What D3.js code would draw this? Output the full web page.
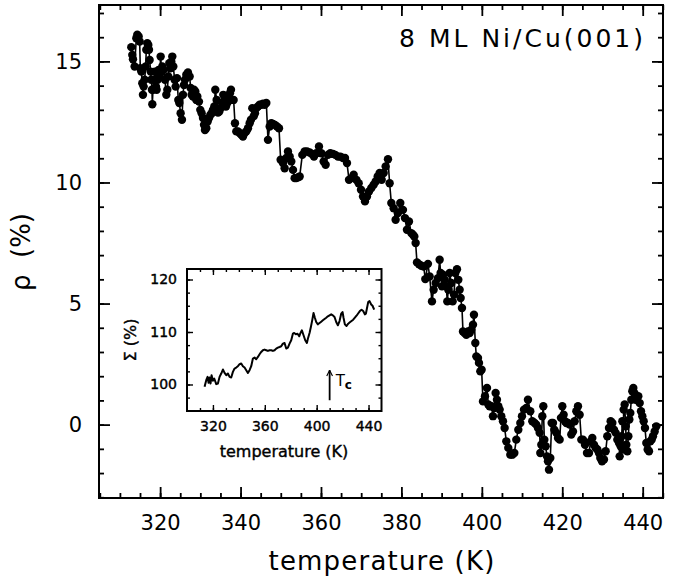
<!DOCTYPE html>
<html>
<head>
<meta charset="utf-8">
<script src="https://cdn.jsdelivr.net/npm/d3@7"></script>
<style>
  body { margin: 0; background: #fff; }
  svg { display: block; }
  text { font-family: "DejaVu Sans", sans-serif; fill: #000; }
</style>
</head>
<body>
<div id="chart"></div>
<script>
// main curve: temperature (K) vs rho (%)
var tempK = [
  312.83,313.08,313.25,313.66,314.08,314.32,314.66,314.91,315.07,315.32,315.57,315.73,315.90,316.15,316.40,316.56,
  316.81,317.06,317.23,317.39,317.64,317.81,317.97,318.06,318.22,318.47,318.72,318.97,319.13,319.38,319.63,319.88,
  320.13,320.38,320.54,320.87,321.20,321.54,321.79,322.03,322.28,322.53,322.78,323.03,323.28,323.61,323.86,324.19,
  324.52,324.77,325.10,325.43,325.68,325.93,326.18,326.51,326.92,327.34,327.59,327.84,328.17,328.42,328.75,329.00,
  329.25,329.66,329.99,330.32,330.66,330.91,331.15,331.48,331.82,332.15,332.48,332.81,333.14,333.47,333.72,334.05,
  334.39,334.72,335.05,335.38,335.71,336.04,336.37,336.71,337.04,337.37,337.62,337.95,338.28,338.61,338.94,339.36,
  339.77,340.19,340.60,341.02,341.43,341.85,342.26,342.59,342.92,343.26,343.59,343.92,344.33,344.75,345.16,345.58,
  345.99,346.41,346.82,347.24,347.65,348.06,348.56,349.06,349.56,349.97,350.55,350.96,351.38,351.79,352.21,352.62,
  353.04,353.45,353.87,354.28,354.70,355.36,355.94,356.52,357.18,357.76,358.26,358.84,359.50,360.08,360.66,361.16,
  361.74,362.32,362.99,363.57,364.23,364.81,365.47,365.97,366.47,366.97,367.55,368.13,368.79,369.37,369.95,370.45,
  370.94,371.44,371.94,372.52,373.10,373.60,374.10,374.59,375.09,375.59,376.08,376.66,377.07,377.49,378.07,378.56,
  379.14,379.72,380.39,380.88,381.38,381.88,382.46,382.88,383.21,383.54,383.87,384.40,384.95,385.53,385.94,386.60,
  387.02,387.60,388.01,388.51,389.09,389.51,389.75,390.09,390.34,390.75,391.16,391.41,391.66,392.00,392.41,392.74,
  393.07,393.40,393.82,394.15,394.48,394.73,395.06,395.31,395.72,396.14,396.55,396.97,397.38,397.80,398.04,398.38,
  398.63,399.04,399.29,399.62,399.95,400.28,400.78,401.28,401.61,401.94,402.44,402.77,403.10,403.43,403.76,404.10,
  404.43,404.84,405.26,405.67,406.09,406.58,407.08,407.58,408.08,408.57,409.07,409.57,409.98,410.48,411.06,411.47,
  412.05,412.55,413.13,413.55,413.96,414.38,414.54,414.79,415.04,415.29,415.54,415.87,416.20,416.45,416.70,417.03,
  417.36,417.69,418.02,418.52,418.94,419.35,419.68,420.01,420.34,420.68,421.01,421.42,421.84,422.25,422.67,423.08,
  423.50,423.91,424.32,424.74,425.15,425.65,426.15,426.65,427.06,427.47,427.89,428.30,428.72,429.13,429.46,429.88,
  430.37,430.79,431.20,431.62,432.03,432.45,432.86,433.28,433.69,434.11,434.27,434.52,434.77,434.94,435.10,435.27,
  435.52,435.76,435.93,436.18,436.43,436.68,436.92,437.17,437.42,437.67,437.92,438.25,438.58,438.91,439.25,439.58,
  439.91,440.24,440.57,440.90,441.24,441.57,441.90,442.23,442.56,442.98,443.39
];
var rho = [
  15.59,15.27,15.09,14.79,15.96,16.10,16.03,15.82,14.72,14.58,14.10,13.62,13.96,14.24,14.79,15.48,
  15.75,15.68,15.48,15.06,14.58,14.24,13.83,13.23,13.83,14.24,14.58,13.96,13.83,14.24,14.65,14.38,
  15.20,14.58,14.79,14.65,14.24,13.62,13.83,14.38,14.93,14.72,14.99,15.20,14.79,14.24,13.96,14.31,
  13.41,13.28,12.86,12.59,13.62,14.03,14.24,14.45,14.54,14.38,13.90,13.62,13.55,13.83,13.76,13.41,
  13.55,13.34,13.00,12.86,12.66,12.38,12.17,12.24,12.52,12.66,12.79,12.86,13.00,13.14,13.83,13.41,
  12.89,12.93,13.07,13.28,13.62,13.41,13.14,13.28,13.48,13.69,13.83,13.41,13.41,12.45,12.11,12.11,
  12.04,11.97,11.90,12.04,12.11,12.24,12.45,12.59,13.07,12.73,12.86,13.07,13.14,13.21,13.21,13.25,
  13.21,13.28,11.76,12.31,12.45,12.42,12.38,12.31,12.24,10.94,10.80,10.59,11.01,11.28,11.07,10.87,
  10.52,10.18,10.18,10.21,10.25,11.14,11.28,11.28,11.24,11.18,11.07,11.21,11.49,11.21,10.87,10.73,
  11.14,11.21,11.18,11.14,11.07,11.07,11.01,11.01,10.80,10.11,10.18,10.32,10.11,9.97,9.70,9.42,
  9.22,9.42,9.63,9.77,9.91,10.04,10.25,10.39,10.11,10.39,10.66,10.96,9.97,9.15,8.94,8.46,
  8.74,9.15,8.87,8.53,8.05,8.39,7.91,7.84,7.77,7.50,6.70,6.62,6.56,6.53,6.01,6.64,
  6.12,5.09,5.57,5.85,6.05,6.81,6.26,5.71,6.19,5.98,5.71,5.09,5.57,6.26,5.85,5.09,
  5.37,6.26,6.42,5.98,5.57,5.23,4.82,3.85,3.78,3.71,3.85,3.78,3.92,4.13,4.54,3.37,
  2.82,2.75,2.55,2.20,2.27,0.96,1.17,1.51,0.83,0.76,0.76,0.35,0.69,1.31,1.03,0.76,
  0.62,0.35,0.14,-0.14,-0.69,-0.96,-1.24,-1.24,-1.17,-0.62,-0.21,0.07,0.35,0.62,0.69,1.03,
  0.55,0.14,0.07,0.00,-0.14,-0.34,-1.17,-0.83,0.35,0.76,-0.62,-0.89,-1.31,-1.51,-1.86,-1.38,
  0.07,0.07,-0.21,-0.34,-0.55,-0.62,0.28,0.76,0.41,0.14,0.07,0.07,0.00,-0.41,-0.28,0.14,
  0.55,0.76,0.41,-0.62,-0.62,-0.83,-1.17,-1.17,-0.69,-0.55,-0.83,-0.96,-1.03,-1.17,-1.38,-1.51,
  -1.44,-1.10,-0.48,-0.14,0.14,0.07,-0.21,-0.34,-0.62,-0.76,-1.31,-0.89,-0.48,0.14,-1.03,0.62,
  0.83,-0.07,-0.83,-1.10,-0.48,0.21,0.48,1.03,1.38,1.51,1.31,1.03,1.10,1.17,0.89,0.55,
  0.35,0.14,-0.14,-0.76,-1.03,-1.10,-0.69,-0.62,-0.48,-0.28,-0.07
];

// inset curve: temperature (K) vs Sigma (%)
var insetT = [
  313.55,314.84,315.86,316.64,317.41,318.18,318.95,319.98,321.00,322.55,323.83,325.12,326.40,327.69,328.97,330.26,
  331.54,332.83,334.11,335.40,336.68,337.97,339.25,340.54,341.82,343.11,344.39,345.68,346.96,348.25,349.53,350.82,
  352.10,353.39,354.67,355.96,357.24,358.53,359.81,361.10,362.38,363.67,364.95,366.24,367.52,368.81,370.09,371.38,
  372.66,373.95,375.23,376.52,377.80,379.09,380.37,381.66,382.68,383.97,385.25,386.54,387.31,388.60,389.88,391.17,
  392.45,393.22,394.51,395.53,396.56,397.59,398.62,399.65,400.93,402.22,403.50,404.79,406.07,407.36,408.64,409.93,
  411.21,412.50,413.78,415.07,416.35,417.64,418.92,419.95,420.72,421.75,423.03,424.32,425.60,426.89,428.17,429.46,
  430.74,431.83,433.31,434.60,435.88,437.17,437.94,438.71,439.74,440.77,442.05,443.08,444.36
];
var sigma = [
  99.56,100.82,101.45,100.32,101.33,100.19,101.77,100.70,101.14,100.06,100.19,101.45,102.09,102.85,102.21,101.77,
  102.09,101.45,101.33,102.40,103.04,103.23,103.48,103.86,103.99,103.48,103.23,102.72,102.21,102.72,103.48,104.94,
  105.13,104.81,105.25,105.76,106.20,106.52,106.65,106.52,106.39,106.52,106.52,106.39,106.52,106.84,107.03,107.15,
  107.28,107.79,107.91,106.84,107.03,107.79,108.42,109.68,109.81,109.56,109.68,109.18,109.68,110.32,109.37,108.42,
  107.91,108.73,109.81,110.95,112.22,113.61,112.72,111.90,111.46,111.71,111.96,112.22,112.47,112.72,112.98,113.17,
  113.36,113.17,112.85,111.90,111.27,112.09,113.48,113.80,112.72,111.46,111.14,111.58,111.84,112.09,112.34,112.72,
  113.10,113.48,113.99,114.24,113.99,113.36,113.48,114.43,115.70,115.89,115.25,115.00,114.24
];

var xMajor = [320, 340, 360, 380, 400, 420, 440];
var yMajor = [0, 5, 10, 15];
var insetXMajor = [320, 360, 400, 440];
var insetYMajor = [100, 110, 120];
var tc = 410;

var svg = d3.select('#chart').append('svg')
  .attr('width', 682)
  .attr('height', 580);

var x = d3.scaleLinear().domain([304.8, 445.05]).range([99, 663]);
var y = d3.scaleLinear().domain([-3.03, 17.33]).range([498, 5]);

// draws inward ticks on all four sides of a box
function boxAxes(g, xs, ys, o) {
  var r = xs.range(), d = ys.range();
  var mk = function(axis, tx, ty, vals, size, labels) {
    var a = axis.tickValues(vals).tickSizeInner(-size).tickSizeOuter(0);
    if (!labels) a.tickFormat('');
    else a.tickPadding(o.pad).tickFormat(d3.format('d'));
    var ag = g.append('g').attr('transform', 'translate(' + tx + ',' + ty + ')').call(a);
    ag.select('.domain').remove();
    ag.selectAll('line').attr('stroke', '#000').attr('stroke-width', o.tw);
    ag.selectAll('text').style('font-size', o.fs + 'px').style('font-family', '"DejaVu Sans", sans-serif')
      .attr('fill', '#000').attr('stroke', o.ts ? '#000' : null).attr('stroke-width', o.ts || null);
    return ag;
  };
  mk(d3.axisBottom(xs), 0, d[0], o.xMinor, o.minor, false);
  mk(d3.axisBottom(xs), 0, d[0], o.xMajor, o.major, true);
  mk(d3.axisTop(xs), 0, d[1], o.xMinor, o.minor, false);
  mk(d3.axisTop(xs), 0, d[1], o.xMajor, o.major, false);
  mk(d3.axisLeft(ys), r[0], 0, o.yMinor, o.minor, false);
  mk(d3.axisLeft(ys), r[0], 0, o.yMajor, o.major, true);
  mk(d3.axisRight(ys), r[1], 0, o.yMinor, o.minor, false);
  mk(d3.axisRight(ys), r[1], 0, o.yMajor, o.major, false);
  g.append('rect')
    .attr('x', r[0]).attr('y', d[1])
    .attr('width', r[1] - r[0]).attr('height', d[0] - d[1])
    .attr('fill', 'none').attr('stroke', '#000').attr('stroke-width', o.fw);
}

var main = svg.append('g');
boxAxes(main, x, y, {
  xMajor: xMajor, yMajor: yMajor,
  xMinor: d3.range(305, 446, 5), yMinor: d3.range(-3, 18, 1),
  major: 11, minor: 5, pad: 17, fs: 21, tw: 1.8, fw: 2
});

var pts = tempK.map(function(t, i) { return { t: t, v: rho[i] }; });

main.append('path')
  .attr('d', d3.line().x(function(d) { return x(d.t); }).y(function(d) { return y(d.v); })(pts))
  .attr('fill', 'none')
  .attr('stroke', '#000')
  .attr('stroke-width', 1.6);

main.append('g')
  .selectAll('circle')
  .data(pts)
  .enter()
  .append('circle')
  .attr('cx', function(d) { return x(d.t); })
  .attr('cy', function(d) { return y(d.v); })
  .attr('r', 4.2)
  .attr('fill', '#000');

main.append('text')
  .attr('x', 646).attr('y', 47)
  .attr('text-anchor', 'end')
  .style('font-size', '25px')
  .style('letter-spacing', '3px')
  .text('8 ML Ni/Cu(001)');

main.append('text')
  .attr('x', 382).attr('y', 570)
  .attr('text-anchor', 'middle')
  .style('font-size', '26px')
  .style('letter-spacing', '1.2px')
  .text('temperature (K)');

main.append('text')
  .attr('transform', 'translate(30,252) rotate(-90)')
  .attr('text-anchor', 'middle')
  .style('font-size', '26px')
  .text('\u03c1\u00a0\u00a0(%)');

// inset
var xi = d3.scaleLinear().domain([300, 450]).range([187, 381.5]);
var yi = d3.scaleLinear().domain([94.95, 122]).range([411, 269]);

var inset = svg.append('g');
inset.append('rect')
  .attr('x', 187).attr('y', 269)
  .attr('width', 194.5).attr('height', 142)
  .attr('fill', '#fff');

boxAxes(inset, xi, yi, {
  xMajor: insetXMajor, yMajor: insetYMajor,
  xMinor: d3.range(310, 450, 10), yMinor: d3.range(97.5, 122, 2.5),
  major: 6, minor: 3, pad: 10, fs: 14, tw: 1.4, fw: 2, ts: 0.4
});

var ipts = insetT.map(function(t, i) { return { t: t, v: sigma[i] }; });
inset.append('path')
  .attr('d', d3.line().x(function(d) { return xi(d.t); }).y(function(d) { return yi(d.v); })(ipts))
  .attr('fill', 'none')
  .attr('stroke', '#000')
  .attr('stroke-width', 2)
  .attr('stroke-linejoin', 'round');

inset.append('text')
  .attr('x', 284).attr('y', 457)
  .attr('text-anchor', 'middle')
  .style('font-size', '16px')
  .attr('stroke', '#000').attr('stroke-width', 0.4)
  .text('temperature (K)');

inset.append('text')
  .attr('transform', 'translate(136,340) rotate(-90)')
  .attr('text-anchor', 'middle')
  .style('font-size', '16px')
  .attr('stroke', '#000').attr('stroke-width', 0.4)
  .text('\u03a3\u00a0(%)');

// Tc arrow
svg.append('defs').append('marker')
  .attr('id', 'arr')
  .attr('viewBox', '0 0 10 10')
  .attr('refX', 9).attr('refY', 5)
  .attr('markerWidth', 4).attr('markerHeight', 4)
  .attr('orient', 'auto')
  .append('path')
  .attr('d', 'M1,1 L9,5 L1,9')
  .attr('fill', 'none').attr('stroke', '#000').attr('stroke-width', 1.6);

inset.append('line')
  .attr('x1', xi(tc)).attr('x2', xi(tc))
  .attr('y1', yi(97.0)).attr('y2', yi(102.7))
  .attr('stroke', '#000').attr('stroke-width', 1.8)
  .attr('marker-end', 'url(#arr)');

var tcText = inset.append('text')
  .attr('x', xi(tc) + 6).attr('y', 386)
  .style('font-size', '15px');
tcText.append('tspan').text('T');
tcText.append('tspan').attr('dy', 3).style('font-size', '12px').style('font-weight', 'bold').text('c');
</script>
</body>
</html>
